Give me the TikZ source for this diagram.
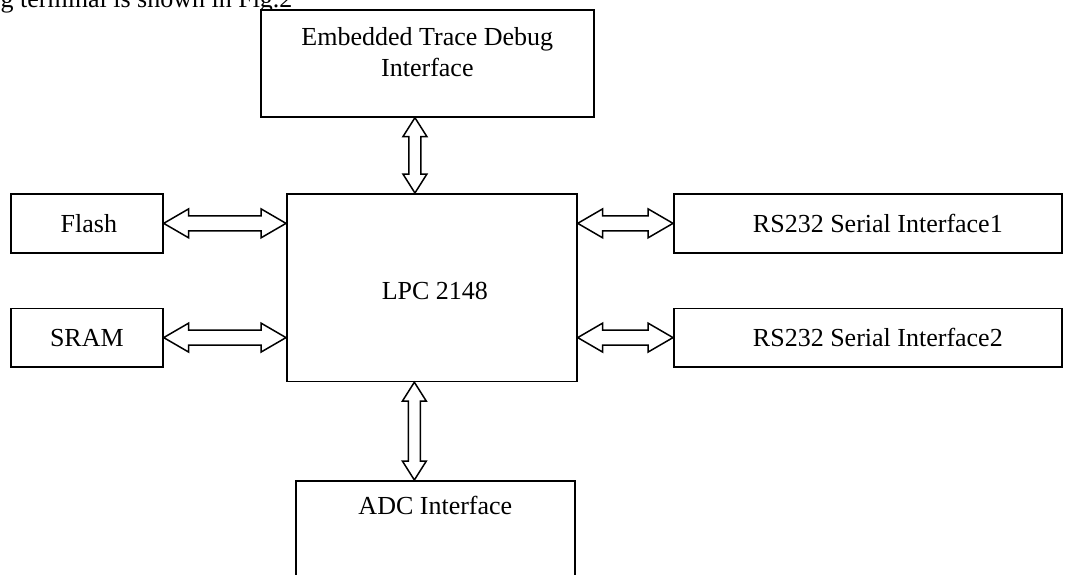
\documentclass[tikz,border=0pt]{standalone}
\usepackage{fontspec}
\setmainfont{Liberation Serif}
\usetikzlibrary{calc, positioning}
\newcommand\dblarrowh[2]{ % horizontal bus arrow, 2 params: left tip, right tip
    \draw[busarrow] let \p1=(#1), \p2=(#2) in
        (\p1) -- (\x1+25pt,\y1+14.5pt) -- (\x1+25pt,\y1+7.5pt) -- (\x2-25pt,\y2+7.5pt) -- (\x2-25pt,\y2+14.5pt) -- (\p2)
        -- (\x2-25pt,\y2-14.5pt) -- (\x2-25pt,\y2-7.5pt) -- (\x1+25pt,\y1-7.5pt) -- (\x1+25pt,\y1-14.5pt) -- cycle;
}
\newcommand\dblarrowv[2]{ % vertical bus arrow, 2 params: upper tip, lower tip
    \draw[busarrow] let \p1=(#1), \p2=(#2) in
        (\p1) -- (\x1+12pt,\y1-19pt) -- (\x1+6pt,\y1-19pt) -- (\x2+6pt,\y2+19pt) -- (\x2+12pt,\y2+19pt) -- (\p2)
        -- (\x2-12pt,\y2+19pt) -- (\x2-6pt,\y2+19pt) -- (\x1-6pt,\y1-19pt) -- (\x1-12pt,\y1-19pt) -- cycle;
}

\begin{document}
\begin{tikzpicture}[x=1pt, y=-1pt,
        unit/.style={draw, fill=white, line width=1.7pt, anchor=north west, inner sep=0},
        lbl/.style={font=\fontsize{26}{31}\selectfont, inner sep=0, align=center},
        busarrow/.style={draw, fill=white, line width=1.5pt, line join=miter}]
    \useasboundingbox (0,0) rectangle (1076,575);
    \clip (0,0) rectangle (1076,575);
    \node[lbl, anchor=base west] (pagetext) at (0.5,8) {g terminal is shown in Fig.2};
    % blocks
    \node[unit, minimum width=333pt, minimum height=107pt] (etd) at (260,9) {};
    \node[lbl, below=18pt of etd.north] (etdtext) {Embedded Trace Debug\\Interface};
    \node[unit, minimum width=290pt, minimum height=187.5pt] (lpc) at (286,193) {};
    \node[lbl] (lpctext) at ([xshift=3pt, yshift=-3pt]lpc.center) {LPC 2148};
    \node[unit, minimum width=152pt, minimum height=59pt] (flash) at (10,193) {};
    \node[lbl] (flashtext) at ([xshift=2pt]flash.center) {Flash};
    \node[unit, minimum width=152pt, minimum height=58.5pt] (sram) at (10,307.5) {};
    \node[lbl] (sramtext) at (sram.center) {SRAM};
    \node[unit, minimum width=388pt, minimum height=59pt] (rs1) at (673,193) {};
    \node[lbl] (rs1text) at ([xshift=10pt]rs1.center) {RS232 Serial Interface1};
    \node[unit, minimum width=388pt, minimum height=58.5pt] (rs2) at (673,307.5) {};
    \node[lbl] (rs2text) at ([xshift=10pt]rs2.center) {RS232 Serial Interface2};
    \node[unit, minimum width=279pt, minimum height=130pt] (adc) at (295,480) {};
    \node[lbl, below=16pt of adc.north] (adctext) {ADC Interface};
    % bus arrows
    \coordinate (topbus) at ($(lpc.north west)!0.442!(lpc.north east)$);
    \coordinate (botbus) at ($(lpc.south west)!0.44!(lpc.south east)$);
    \dblarrowv{topbus |- etd.south}{topbus};
    \dblarrowv{botbus}{botbus |- adc.north};
    \dblarrowh{flash.east}{flash.east -| lpc.west};
    \dblarrowh{sram.east}{sram.east -| lpc.west};
    \dblarrowh{rs1.west -| lpc.east}{rs1.west};
    \dblarrowh{rs2.west -| lpc.east}{rs2.west};
\end{tikzpicture}
\end{document}
